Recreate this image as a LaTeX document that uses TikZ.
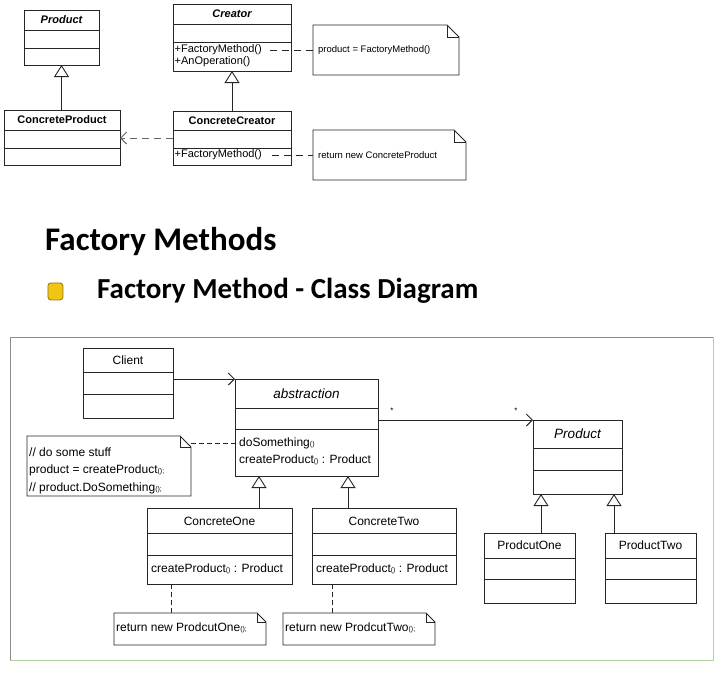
\documentclass[tikz,border=0pt]{standalone}
\usepackage{fontspec}
\setmainfont{Liberation Sans}
\newfontfamily\headfont{Carlito}
\usetikzlibrary{arrows.meta}
\newcommand\setfs[1]{\fontsize{#1}{#1}\selectfont}
\newcommand\smpar{{\setfs{7}()}}
\newcommand\smparx{{\setfs{7}();}}
\tikzset{
  x=1pt, y=-1pt,
  cls/.style={draw=black!85, line width=0.9pt, inner sep=0pt, outer sep=0pt, anchor=north west, rectangle},
  sepl/.style={draw=black!85, line width=0.9pt},
  notel/.style={draw=black!85, line width=0.8pt, line join=miter},
  blank/.style={inner sep=0pt, outer sep=0pt, anchor=north west, rectangle},
  inh/.style={draw=black!85, line width=0.9pt, -{Triangle[open, length=12pt, width=15pt, line width=0.9pt]}},
  assoc/.style={draw=black!85, line width=0.9pt, -{Straight Barb[length=6pt, width=12pt, line width=0.9pt]}},
  deptop/.style={draw=black!85, line width=0.9pt, dash pattern=on 7pt off 5pt},
  depbot/.style={draw=black!85, line width=0.9pt, dash pattern=on 5pt off 3pt},
  txt/.style={inner sep=0pt, anchor=west},
  topfont/.style={font=\setfs{11}},
  notefont/.style={font=\setfs{9.5}},
  botfont/.style={font=\setfs{12}},
}
\newcommand\umlclass[7]{%
  \node[cls, minimum width=#4pt, minimum height=#5pt] (#1) at (#2,#3) {};
  \draw[sepl] ([yshift=-#6pt]#1.north west) -- ([yshift=-#6pt]#1.north east);
  \draw[sepl] ([yshift=-#7pt]#1.north west) -- ([yshift=-#7pt]#1.north east);
}
\newcommand\umlnote[6]{%
  \node[blank, minimum width=#4pt, minimum height=#5pt] (#1) at (#2,#3) {};
  \draw[notel] (#1.north west) -- ([xshift=-#6pt]#1.north east) -- ([yshift=-#6pt]#1.north east) -- (#1.south east) -- (#1.south west) -- cycle;
  \draw[notel] ([xshift=-#6pt]#1.north east) -- ([xshift=-#6pt,yshift=-#6pt]#1.north east) -- ([yshift=-#6pt]#1.north east);
}
\begin{document}
\begin{tikzpicture}
\useasboundingbox (0,0) rectangle (728,678);
\fill[white] (0,0) rectangle (728,678);

% ---------------- top diagram ----------------
\umlclass{pA}{24}{10}{75}{55}{20}{38}
\node[font=\setfs{11}\bfseries\itshape] (pAt) at ([yshift=-10pt]pA.north) {Product};
\umlclass{cpA}{4}{110}{116}{55}{20}{38}
\node[font=\setfs{11}\bfseries] (cpAt) at ([yshift=-10pt]cpA.north) {ConcreteProduct};
\umlclass{cr}{173}{4}{118}{67}{20}{38}
\node[font=\setfs{11}\bfseries\itshape] (crt) at ([yshift=-10pt]cr.north) {Creator};
\node[txt, topfont] (m1) at (174.5,50) {+FactoryMethod()};
\node[txt, topfont] (m1b) at (174.5,62) {+AnOperation()};
\umlclass{ccr}{173}{111}{118}{54}{19}{37}
\node[font=\setfs{11}\bfseries] (ccrt) at ([yshift=-9.5pt]ccr.north) {ConcreteCreator};
\node[txt, topfont] (m2) at (174.5,155) {+FactoryMethod()};

\umlnote{n1}{313}{25}{146}{50}{12}
\node[txt, notefont] (n1t) at (318,50) {product = FactoryMethod()};
\umlnote{n2}{313}{130}{153}{50}{12}
\node[txt, notefont] (n2t) at (318,155) {return new ConcreteProduct};

\draw[inh] (cpA.north -| pA.south) -- (pA.south);
\draw[inh] (ccr) -- (cr);
\draw[draw=black!60, line width=0.9pt, dash pattern=on 7pt off 5pt, -{Straight Barb[length=6pt, width=12pt, line width=0.9pt]}] (ccr.west) -- (ccr.west -| cpA.east);
\draw[deptop] ([xshift=8pt]m1.east) -- (m1.east -| n1.west);
\draw[deptop] ([xshift=10pt]m2.east) -- (m2.east -| n2.west);

% ---------------- headings ----------------
\node[anchor=base west, inner sep=0pt, font=\headfont\bfseries\setfs{33}] (h1) at (45,250) {Factory Methods};
\node[draw={rgb,255:red,150;green,115;blue,20}, fill={rgb,255:red,240;green,198;blue,20}, line width=0.8pt, rounded corners=3pt, inner sep=0pt, minimum width=15pt, minimum height=17pt, anchor=north west] (bul) at (47.5,282.5) {};
\node[anchor=base west, inner sep=0pt, font=\headfont\bfseries\setfs{29}] (h2) at (97,298) {Factory Method - Class Diagram};

% ---------------- bottom diagram ----------------
\node[blank, minimum width=703pt, minimum height=323pt] (frame) at (10,337) {};
\draw[draw=black!45, line width=0.8pt] (frame.south west) -- (frame.north west) -- (frame.north east);
\draw[draw={rgb,255:red,175;green,210;blue,160}, line width=0.8pt] (frame.north east) -- (frame.south east) -- (frame.south west);

\umlclass{cl}{83}{348}{90}{70}{24}{46}
\node[botfont] (clt) at ([yshift=-12pt]cl.north) {Client};
\umlclass{ab}{235}{379}{143}{97}{29}{50}
\node[font=\setfs{13.5}\itshape] (abt) at ([yshift=-15pt]ab.north) {abstraction};
\node[txt, botfont] (am1) at (239,443) {doSomething\smpar};
\node[txt, botfont] (am2) at (239,460) {createProduct\smpar{} : Product};

\umlnote{n3}{27}{436}{164}{60}{11}
\node[txt, botfont] (n3a) at (29,452) {// do some stuff};
\node[txt, botfont] (n3b) at (29,470) {product = createProduct\smparx};
\node[txt, botfont] (n3c) at (29,488) {// product.DoSomething\smparx};

\umlclass{pB}{533}{420}{89}{74}{28}{50}
\node[font=\setfs{13.5}\itshape] (pBt) at ([yshift=-14pt]pB.north) {Product};

\umlclass{c1}{147}{508}{145}{76}{25}{47}
\node[botfont] (c1t) at ([yshift=-13pt]c1.north) {ConcreteOne};
\node[txt, botfont] (c1m) at (151,569) {createProduct\smpar{} : Product};
\umlclass{c2}{312}{508}{144}{76}{25}{47}
\node[botfont] (c2t) at ([yshift=-13pt]c2.north) {ConcreteTwo};
\node[txt, botfont] (c2m) at (316,569) {createProduct\smpar{} : Product};

\umlclass{po}{484}{533}{91}{70}{25}{46}
\node[botfont] (pot) at ([yshift=-12pt]po.north) {ProdcutOne};
\umlclass{pt}{605}{533}{91}{70}{25}{46}
\node[botfont] (ptt) at ([yshift=-12pt]pt.north) {ProductTwo};

\umlnote{n4}{114}{613}{152}{32}{9}
\node[txt, botfont] (n4t) at (116,628) {return new ProdcutOne\smparx};
\umlnote{n5}{283}{613}{152}{32}{9}
\node[txt, botfont] (n5t) at (285,628) {return new ProdcutTwo\smparx};

% connectors
\draw[assoc] (cl.east |- ab.north west) -- (ab.north west);
\draw[assoc] (ab.east |- pB.north west) -- (pB.north west);
\node[font=\setfs{8}] (mult1) at (392,411) {*};
\node[font=\setfs{8}] (mult2) at (516,411) {*};
\draw[inh] ([xshift=39.5pt]c1.north) -- ([xshift=39.5pt]c1.north |- ab.south);
\draw[inh] ([xshift=-36pt]c2.north) -- ([xshift=-36pt]c2.north |- ab.south);
\draw[inh] ([xshift=11.5pt]po.north) -- ([xshift=11.5pt]po.north |- pB.south);
\draw[inh] ([xshift=-36.5pt]pt.north) -- ([xshift=-36.5pt]pt.north |- pB.south);
\draw[depbot] ([yshift=-7pt]n3.north east) -- ([yshift=-7pt]n3.north east -| ab.west);
\draw[depbot] ([xshift=-48.5pt]c1.south) -- ([xshift=-48.5pt]c1.south |- n4.north);
\draw[depbot] ([xshift=-52pt]c2.south) -- ([xshift=-52pt]c2.south |- n5.north);
\end{tikzpicture}
\end{document}
